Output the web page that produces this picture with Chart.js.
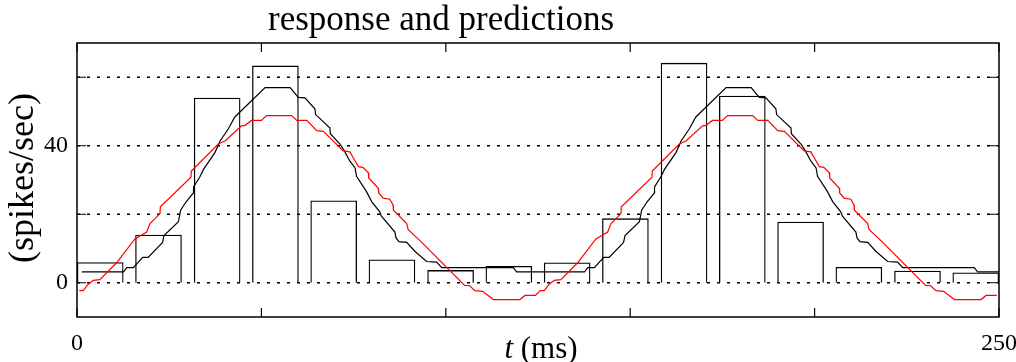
<!DOCTYPE html>
<html>
<head>
<meta charset="utf-8">
<script src="https://cdn.jsdelivr.net/npm/chart.js@4"></script>
<style>
body { margin: 0; background: #fff; }
canvas { display: block; }
</style>
</head>
<body>
<canvas id="myChart" width="1016" height="362"></canvas>
<script>
// histogram of the response (bin centres in ms, spikes/sec)
const binTimes = [6.3, 22.1, 38.0, 53.8, 69.6, 85.4, 101.3, 117.1, 132.9, 148.7, 164.6, 180.4, 196.2, 212.0, 227.9, 243.7];
const binCounts = [6.0, 14.0, 54.0, 63.4, 24.0, 6.8, 3.7, 4.9, 5.9, 18.8, 64.2, 54.6, 17.8, 4.6, 3.5, 3.0];

// black prediction
const blackTimes = [1.3, 12.6, 13.5, 15.3, 17.8, 19.3, 23.2, 23.6, 27.5, 28.1, 29.5, 31.5, 31.6, 33.4, 34.3, 37.4, 38.8, 41.0, 42.8, 51.0, 57.8, 60.0, 61.8, 64.5, 64.7, 68.6, 68.7, 71.3, 72.5, 74.0, 75.4, 75.8, 78.5, 79.9, 82.1, 82.5, 86.2, 86.5, 87.3, 89.4, 91.6, 94.8, 97.5, 98.9, 118.3, 119.2,
  137.6, 138.5, 140.3, 142.8, 144.3, 148.2, 148.6, 152.5, 153.1, 154.5, 156.5, 156.6, 158.4, 159.3, 162.4, 163.8, 166.0, 167.8, 176.0, 182.8, 185.0, 186.8, 189.5, 189.7, 193.6, 193.7, 196.3, 197.5, 199.0, 200.4, 200.8, 203.5, 204.9, 207.1, 207.5, 211.2, 211.5, 212.3, 214.4, 216.6, 219.8, 222.5, 223.9, 243.3, 244.2, 250.0];
const blackValues = [3.2, 3.2, 4.4, 4.4, 7.4, 7.4, 11.8, 13.8, 17.8, 21.2, 23.5, 26.2, 28.0, 31.1, 33.1, 38.0, 41.4, 44.9, 48.4, 57.0, 57.0, 54.1, 54.0, 50.8, 49.1, 45.2, 43.5, 40.5, 38.5, 35.5, 33.5, 31.1, 26.6, 23.7, 20.7, 19.5, 14.8, 13.1, 12.0, 11.8, 9.2, 6.2, 6.0, 4.4, 4.4, 3.2,
  3.2, 4.4, 4.4, 7.4, 7.4, 11.8, 13.8, 17.8, 21.2, 23.5, 26.2, 28.0, 31.1, 33.1, 38.0, 41.4, 44.9, 48.4, 57.0, 57.0, 54.1, 54.0, 50.8, 49.1, 45.2, 43.5, 40.5, 38.5, 35.5, 33.5, 31.1, 26.6, 23.7, 20.7, 19.5, 14.8, 13.1, 12.0, 11.8, 9.2, 6.2, 6.0, 4.4, 4.4, 3.2, 3.2];

// red prediction
const redTimes = [0.6, 1.7, 3.0, 4.4, 6.2, 10.8, 15.7, 18.9, 19.8, 22.5, 22.6, 30.9, 31.0, 38.3, 40.1, 44.7, 45.5, 47.3, 50.0, 51.4, 58.2, 59.6, 62.3, 65.0, 66.8, 72.2, 74.0, 74.9, 76.3, 77.5, 79.0, 79.1, 81.7, 81.8, 83.0, 84.8, 85.7, 85.8, 89.4, 89.8, 93.0, 105.1, 106.4, 107.9, 110.0, 112.9, 120.1, 121.5, 124.3,
  125.6, 126.7, 128.0, 129.4, 131.2, 135.8, 140.7, 143.9, 144.8, 147.5, 147.6, 155.9, 156.0, 163.3, 165.1, 169.7, 170.5, 172.3, 175.0, 176.4, 183.2, 184.6, 187.3, 190.0, 191.8, 197.2, 199.0, 199.9, 201.3, 202.5, 204.0, 204.1, 206.7, 206.8, 208.0, 209.8, 210.7, 210.8, 214.4, 214.8, 218.0, 230.1, 231.4, 232.9, 235.0, 237.9, 245.1, 246.5, 249.4];
const redValues = [-2.3, -2.3, -0.5, 0.7, 0.9, 5.9, 12.8, 14.8, 17.3, 20.2, 22.2, 30.8, 32.6, 40.5, 41.4, 45.9, 45.9, 47.4, 47.4, 48.8, 48.8, 47.4, 47.4, 44.4, 44.2, 38.5, 38.2, 36.5, 33.9, 33.7, 32.1, 30.6, 27.6, 26.2, 24.7, 24.4, 22.7, 21.2, 17.3, 15.5, 12.3, -0.8, -0.8, -2.3, -2.5, -4.9, -4.9, -3.7, -3.7,
  -2.3, -2.3, -0.5, 0.7, 0.9, 5.9, 12.8, 14.8, 17.3, 20.2, 22.2, 30.8, 32.6, 40.5, 41.4, 45.9, 45.9, 47.4, 47.4, 48.8, 48.8, 47.4, 47.4, 44.4, 44.2, 38.5, 38.2, 36.5, 33.9, 33.7, 32.1, 30.6, 27.6, 26.2, 24.7, 24.4, 22.7, 21.2, 17.3, 15.5, 12.3, -0.8, -0.8, -2.3, -2.5, -4.9, -4.9, -3.7, -3.7];

const xTicks = [0, 50, 100, 150, 200, 250];
const xTickLabels = ['0', '', '', '', '', '250'];
const yTicks = [0, 20, 40, 60];
const yTickLabels = ['0', '', '40', ''];

const serif = '"Liberation Serif", "Times New Roman", serif';
const ctx = document.getElementById('myChart');

function points(ts, vs) {
    return ts.map((t, i) => ({ x: t, y: vs[i] }));
}

// dotted grid, frame, inner tick marks and the titles
const frame = {
    id: 'frame',
    beforeDatasetsDraw(chart) {
        const { ctx, chartArea: a, scales: { y } } = chart;
        ctx.save();
        ctx.strokeStyle = '#000';
        ctx.lineWidth = 1.5;
        ctx.setLineDash([3, 7]);
        for (let v of yTicks) {
            const py = y.getPixelForValue(v);
            ctx.beginPath();
            ctx.moveTo(a.left, py);
            ctx.lineTo(a.right, py);
            ctx.stroke();
        }
        ctx.restore();
    },
    afterDraw(chart) {
        const { ctx, chartArea: a, scales: { x, y } } = chart;
        ctx.save();
        ctx.strokeStyle = '#000';
        ctx.lineWidth = 1.5;
        ctx.strokeRect(a.left, a.top, a.right - a.left, a.bottom - a.top);
        ctx.lineWidth = 1.2;
        ctx.beginPath();
        for (let v of xTicks) {
            const px = x.getPixelForValue(v);
            ctx.moveTo(px, a.top); ctx.lineTo(px, a.top + 9);
            ctx.moveTo(px, a.bottom); ctx.lineTo(px, a.bottom - 9);
        }
        for (let v of yTicks) {
            const py = y.getPixelForValue(v);
            ctx.moveTo(a.left, py); ctx.lineTo(a.left + 9, py);
            ctx.moveTo(a.right, py); ctx.lineTo(a.right - 9, py);
        }
        ctx.stroke();

        ctx.fillStyle = '#000';
        ctx.textAlign = 'center';
        ctx.textBaseline = 'alphabetic';
        ctx.font = '35px ' + serif;
        ctx.fillText('response and predictions', 441, 30);

        // x label: italic t, then (ms)
        const it = 'italic 31px ' + serif;
        const up = '31px ' + serif;
        ctx.font = it;
        const w1 = ctx.measureText('t').width;
        ctx.font = up;
        const w2 = ctx.measureText(' (ms)').width;
        let sx = 541 - (w1 + w2) / 2;
        ctx.textAlign = 'left';
        ctx.font = it;
        ctx.fillText('t', sx, 358);
        ctx.font = up;
        ctx.fillText(' (ms)', sx + w1, 358);

        ctx.translate(24, 178);
        ctx.rotate(-Math.PI / 2);
        ctx.textAlign = 'center';
        ctx.textBaseline = 'middle';
        ctx.font = '36px ' + serif;
        ctx.fillText('(spikes/sec)', 0, 0);
        ctx.restore();
    }
};

new Chart(ctx, {
    type: 'line',
    data: {
        datasets: [
            {
                type: 'bar',
                label: 'response',
                data: points(binTimes, binCounts),
                backgroundColor: 'rgba(0,0,0,0)',
                borderColor: '#000',
                borderWidth: 1.3,
                barPercentage: 0.8,
                categoryPercentage: 1,
                order: 3
            },
            {
                label: 'prediction 1',
                data: points(blackTimes, blackValues),
                borderColor: '#000',
                borderWidth: 1.2,
                pointRadius: 0,
                tension: 0,
                fill: false,
                order: 2
            },
            {
                label: 'prediction 2',
                data: points(redTimes, redValues),
                borderColor: '#ff0000',
                borderWidth: 1.2,
                pointRadius: 0,
                tension: 0,
                fill: false,
                order: 1
            }
        ]
    },
    options: {
        responsive: false,
        animation: false,
        devicePixelRatio: 1,
        layout: { padding: { left: 0, top: 43, right: 17, bottom: 0 } },
        plugins: {
            legend: { display: false },
            tooltip: { enabled: false },
            title: { display: false }
        },
        scales: {
            x: {
                type: 'linear',
                min: 0,
                max: 250,
                offset: false,
                afterBuildTicks: s => { s.ticks = xTicks.map(v => ({ value: v })); },
                afterFit: s => { s.height = 45; s.paddingLeft = 0; s.paddingRight = 0; },
                ticks: {
                    callback: (v, i) => xTickLabels[i],
                    autoSkip: false,
                    maxRotation: 0,
                    padding: 12,
                    color: '#000',
                    font: { family: serif, size: 24 }
                },
                grid: { display: false, drawTicks: false },
                border: { display: false }
            },
            y: {
                type: 'linear',
                min: -10,
                max: 70,
                afterBuildTicks: s => { s.ticks = yTicks.map(v => ({ value: v })); },
                afterFit: s => { s.width = 77; s.paddingTop = 0; s.paddingBottom = 0; },
                ticks: {
                    callback: (v, i) => yTickLabels[i],
                    padding: 9,
                    color: '#000',
                    font: { family: serif, size: 24 }
                },
                grid: { display: false, drawTicks: false },
                border: { display: false }
            }
        }
    },
    plugins: [frame]
});
</script>
</body>
</html>
